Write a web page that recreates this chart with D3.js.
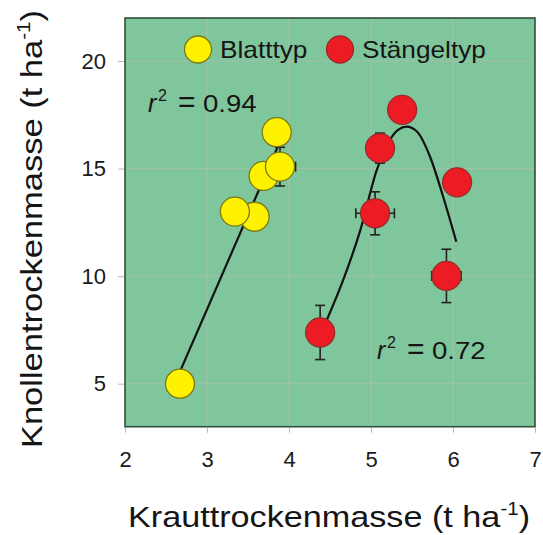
<!DOCTYPE html>
<html>
<head>
<meta charset="utf-8">
<script src="https://cdnjs.cloudflare.com/ajax/libs/d3/7.8.5/d3.min.js"></script>
<style>
body { margin: 0; background: #fff; }
text { font-family: "Liberation Sans", Arial, sans-serif; fill: #151515; }
.tick text { font-size: 22px; fill: #1a1a1a; }
.tick line { stroke: #b8b8b8; }
.grid line { stroke: #a5bfa9; stroke-width: 1; }
.err { stroke: #222; stroke-width: 1.6; fill: none; }
</style>
</head>
<body>
<script>
// Blatttyp points
var blattX = [2.67, 3.58, 3.34, 3.69, 3.85, 3.89]
var blattY = [5.0, 12.76, 13.0, 14.66, 16.69, 15.09]
var blattXErr = [0, 0, 0, 0, 0, 0.19]
var blattYErr = [0, 0, 0, 0, 0, 0.9]
// linear fit, r2 = 0.94
var blattFitX = [2.67, 3.9]
var blattFitY = [5.56, 16.34]

// Stängeltyp points
var stX = [4.38, 5.05, 5.11, 5.38, 6.05, 5.92]
var stY = [7.38, 12.92, 15.95, 17.73, 14.36, 10.01]
var stXErr = [0, 0.235, 0, 0, 0, 0.18]
var stYErr = [1.26, 1.0, 0.7, 0, 0, 1.24]
// fitted curve, r2 = 0.72
var stFitX = [4.42, 4.46, 4.66, 4.87, 5.07, 5.23, 5.33, 5.435, 5.56, 5.72, 5.88, 6.04]
var stFitY = [7.6, 7.95, 9.81, 12.14, 14.93, 16.33, 16.8, 16.95, 16.72, 15.55, 13.69, 11.6]

var xTicks = [2, 3, 4, 5, 6, 7]
var yTicks = [5, 10, 15, 20]
var seriesNames = ["Blatttyp", "Stängeltyp"]
var r2Labels = ["0.94", "0.72"]

var W = 543, H = 535
var pL = 125, pR = 535, pT = 18, pB = 426.7

var x = d3.scaleLinear().domain([2, 7]).range([pL, pR])
var y = d3.scaleLinear().domain([3, 22]).range([pB, pT])

var svg = d3.select("body").append("svg")
    .attr("width", W)
    .attr("height", H)

svg.append("rect")
    .attr("x", pL).attr("y", pT)
    .attr("width", pR - pL).attr("height", pB - pT)
    .attr("fill", "#80c69c")

// grid
var grid = svg.append("g").attr("class", "grid")
grid.selectAll(".gx").data(xTicks.slice(1, -1)).enter().append("line")
    .attr("x1", d => x(d)).attr("x2", d => x(d))
    .attr("y1", pT).attr("y2", pB)
grid.selectAll(".gy").data(yTicks).enter().append("line")
    .attr("x1", pL).attr("x2", pR)
    .attr("y1", d => y(d)).attr("y2", d => y(d))

// axes
var yAxis = svg.append("g")
    .attr("transform", "translate(" + (pL - 1) + ",0)")
    .call(d3.axisLeft(y).tickValues(yTicks).tickFormat(d3.format("d")).tickSize(6).tickPadding(12))
yAxis.select(".domain").remove()

var xAxis = svg.append("g")
    .attr("transform", "translate(0," + (pB + 1) + ")")
    .call(d3.axisBottom(x).tickValues(xTicks).tickFormat(d3.format("d")).tickSize(5).tickPadding(19))
xAxis.select(".domain").remove()

// fit lines
var line = d3.line()
    .x(d => x(d[0]))
    .y(d => y(d[1]))

svg.append("path")
    .datum(d3.zip(blattFitX, blattFitY))
    .attr("d", line)
    .attr("fill", "none").attr("stroke", "#111").attr("stroke-width", 2.2)

svg.append("path")
    .datum(d3.zip(stFitX, stFitY))
    .attr("d", line.curve(d3.curveMonotoneX))
    .attr("fill", "none").attr("stroke", "#111").attr("stroke-width", 2.2)

function drawSeries(xs, ys, xe, ye, fill, stroke) {
  var pts = xs.map((v, i) => ({x: v, y: ys[i], xe: xe[i], ye: ye[i]}))
  var eb = svg.append("g").attr("class", "err")
  pts.forEach(function(p) {
    if (p.ye > 0) {
      eb.append("line").attr("x1", x(p.x)).attr("x2", x(p.x)).attr("y1", y(p.y - p.ye)).attr("y2", y(p.y + p.ye))
      ;[p.y - p.ye, p.y + p.ye].forEach(function(v) {
        eb.append("line").attr("x1", x(p.x) - 5).attr("x2", x(p.x) + 5).attr("y1", y(v)).attr("y2", y(v))
      })
    }
    if (p.xe > 0) {
      eb.append("line").attr("x1", x(p.x - p.xe)).attr("x2", x(p.x + p.xe)).attr("y1", y(p.y)).attr("y2", y(p.y))
      ;[p.x - p.xe, p.x + p.xe].forEach(function(v) {
        eb.append("line").attr("x1", x(v)).attr("x2", x(v)).attr("y1", y(p.y) - 5).attr("y2", y(p.y) + 5)
      })
    }
  })
  svg.append("g").selectAll("circle").data(pts).enter().append("circle")
    .attr("cx", d => x(d.x)).attr("cy", d => y(d.y))
    .attr("r", 14.5)
    .attr("fill", fill).attr("stroke", stroke).attr("stroke-width", 1.3)
}

drawSeries(blattX, blattY, blattXErr, blattYErr, "#fff200", "#7a7a18")
drawSeries(stX, stY, stXErr, stYErr, "#ed1c24", "#9a2a2a")

// legend
var legend = svg.append("g")
var legX = [198, 340]
var legFill = ["#fff200", "#ed1c24"]
var legStroke = ["#7a7a18", "#9a2a2a"]
seriesNames.forEach(function(name, i) {
  legend.append("circle").attr("cx", legX[i]).attr("cy", 49.5).attr("r", 13.5)
    .attr("fill", legFill[i]).attr("stroke", legStroke[i]).attr("stroke-width", 1.3)
  legend.append("text")
    .attr("transform", "translate(" + (legX[i] + 22) + ",57.5) scale(1.14,1)")
    .attr("font-size", 23)
    .text(name)
})

// r^2 annotations
var r2Pos = [[148, 112], [377, 358.5]]
r2Labels.forEach(function(lbl, i) {
  var g = svg.append("g").attr("transform", "translate(" + r2Pos[i][0] + "," + r2Pos[i][1] + ")")
  g.append("text").attr("font-family", "Liberation Serif, Times New Roman, serif")
    .attr("font-style", "italic").attr("font-size", 25).text("r")
  g.append("text").attr("x", 10).attr("y", -11).attr("font-size", 16).text("2")
  g.append("text").attr("x", 30).attr("y", 0).attr("font-family", "Liberation Serif, Times New Roman, serif")
    .attr("font-size", 30).text("=")
  g.append("text").attr("transform", "translate(55,0) scale(1.2,1)").attr("font-size", 23).text(lbl)
})

// axis titles
var xt = svg.append("text")
    .attr("transform", "translate(329,527) scale(1.14,1)")
    .attr("text-anchor", "middle")
    .attr("font-size", 30)
xt.append("tspan").text("Krauttrockenmasse (t ha")
xt.append("tspan").attr("font-size", 18).attr("dy", -12).text("-1")
xt.append("tspan").attr("dy", 12).text(")")

var yt = svg.append("text")
    .attr("transform", "translate(42,229) rotate(-90) scale(1.15,1)")
    .attr("text-anchor", "middle")
    .attr("font-size", 30)
yt.append("tspan").text("Knollentrockenmasse (t ha")
yt.append("tspan").attr("font-size", 18).attr("dy", -12).text("-1")
yt.append("tspan").attr("dy", 12).text(")")

// frame
svg.append("rect")
    .attr("x", pL).attr("y", pT)
    .attr("width", pR - pL).attr("height", pB - pT)
    .attr("fill", "none").attr("stroke", "#2e4f3a").attr("stroke-width", 1.6)
</script>
</body>
</html>
